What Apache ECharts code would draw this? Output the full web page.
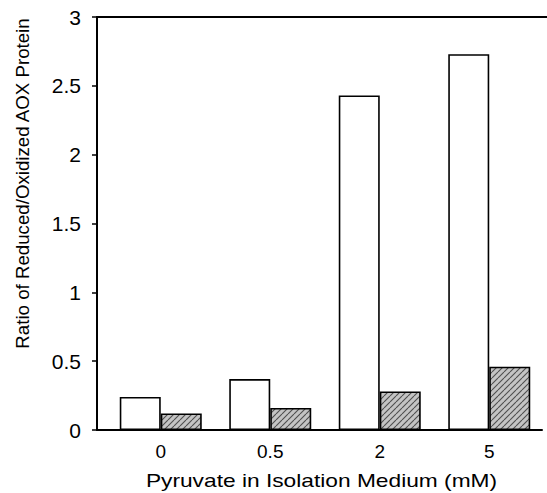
<!DOCTYPE html>
<html>
<head>
<meta charset="utf-8">
<script src="https://cdn.jsdelivr.net/npm/echarts@6/dist/echarts.min.js"></script>
<style>
html, body { margin: 0; padding: 0; background: #fff; }
#chart { width: 547px; height: 493px; }
</style>
</head>
<body>
<div id="chart"></div>
<script>
'use strict';
// pyruvate concentrations (mM)
var categories = ['0', '0.5', '2', '5'];
// open bars
var openRatio = [0.24, 0.37, 2.43, 2.73];
// hatched bars
var hatchedRatio = [0.12, 0.16, 0.28, 0.46];
var yTicks = [0, 0.5, 1, 1.5, 2, 2.5, 3];

var font = 'Liberation Sans, Arial, sans-serif';

function makeHatch() {
	var s = 6;
	var c = document.createElement('canvas');
	c.width = s;
	c.height = s;
	var ctx = c.getContext('2d');
	ctx.fillStyle = '#c4c4c4';
	ctx.fillRect(0, 0, s, s);
	ctx.strokeStyle = '#505050';
	ctx.lineWidth = 1.1;
	ctx.beginPath();
	for (var k = -s; k <= s; k += s) {
		ctx.moveTo(k, s);
		ctx.lineTo(k + s, 0);
	}
	ctx.stroke();
	return c.toDataURL();
}

var chart = echarts.init(document.getElementById('chart'), null, {renderer: 'svg'});

var lineOnly = function (grid, pos) {
	return {
		type: 'value', gridIndex: grid, position: pos, min: 0, max: 1,
		axisLine: {show: true, onZero: false, lineStyle: {color: '#000', width: 2}},
		axisTick: {show: false}, axisLabel: {show: false}, splitLine: {show: false}
	};
};

var option = {
	animation: false,
	backgroundColor: '#fff',
	grid: [
		{left: 106, right: 3, top: 17, bottom: 63, outerBoundsMode: 'none'},
		{left: 97, right: 0, top: 17, bottom: 63, outerBoundsMode: 'none'},
		{left: 97, right: 5, top: 17, bottom: 63, outerBoundsMode: 'none'}
	],
	xAxis: [
		{
			type: 'category', gridIndex: 0, data: categories,
			axisLine: {show: false}, axisTick: {show: false},
			axisLabel: {fontSize: 19, color: '#000', margin: 12, fontFamily: font}
		},
		lineOnly(1, 'top'),
		lineOnly(2, 'bottom')
	],
	yAxis: [
		{
			type: 'value', gridIndex: 0,
			min: yTicks[0], max: yTicks[yTicks.length - 1], interval: yTicks[1] - yTicks[0],
			offset: 9,
			axisLine: {show: true, lineStyle: {color: '#000', width: 2}},
			axisTick: {show: true, inside: false, length: 5, lineStyle: {color: '#000', width: 1.5}},
			axisLabel: {fontSize: 21, color: '#000', margin: 16, fontFamily: font},
			splitLine: {show: false}
		},
		{type: 'value', gridIndex: 1, min: 0, max: 1, show: false},
		{type: 'value', gridIndex: 2, min: 0, max: 1, show: false}
	],
	graphic: [
		{
			type: 'text',
			x: 22, y: 183.5,
			rotation: Math.PI / 2,
			style: {
				text: 'Ratio of Reduced/Oxidized AOX Protein',
				fontSize: 18.7, fontFamily: font, fill: '#000',
				align: 'center', verticalAlign: 'middle'
			}
		},
		{
			type: 'text',
			x: 321.5, y: 481,
			scaleX: 1.3,
			style: {
				text: 'Pyruvate in Isolation Medium (mM)',
				fontSize: 17.5, fontFamily: font, fill: '#000',
				align: 'center', verticalAlign: 'middle'
			}
		}
	],
	series: [
		{
			name: 'open', type: 'bar', xAxisIndex: 0, yAxisIndex: 0,
			data: openRatio, barWidth: 41, barGap: '0%',
			itemStyle: {color: '#fff', borderColor: '#000', borderWidth: 1.6}
		},
		{
			name: 'hatched', type: 'bar', xAxisIndex: 0, yAxisIndex: 0,
			data: hatchedRatio, barWidth: 41, barGap: '0%',
			itemStyle: {
				color: {image: makeHatch(), repeat: 'repeat'},
				borderColor: '#000', borderWidth: 1.6
			}
		}
	]
};

chart.setOption(option);
</script>
</body>
</html>
